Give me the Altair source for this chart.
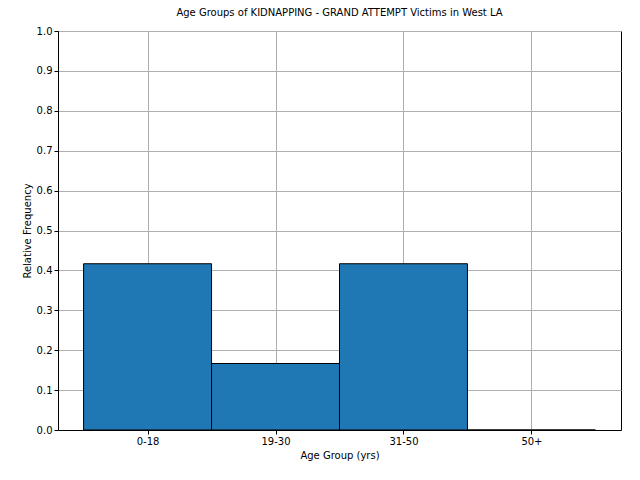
import altair as alt
import pandas as pd

groups = ["0-18", "19-30", "31-50", "50+"]
freqs = [0.4167, 0.1667, 0.4167, 0.0]

df = pd.DataFrame({
    "group": groups,
    "start": [i for i in range(len(groups))],
    "end": [i + 1 for i in range(len(groups))],
    "freq": freqs,
})

label_expr = "[" + ",".join("'%s'" % g for g in groups) + "][floor(datum.value)]"

chart = alt.Chart(df).mark_rect(color="#1f77b4", stroke="black", strokeWidth=1).encode(
    x=alt.X("start:Q", title="Age Group (yrs)",
            scale=alt.Scale(domain=[-0.2, 4.2], nice=False, zero=False),
            axis=alt.Axis(values=[0.5, 1.5, 2.5, 3.5], labelExpr=label_expr,
                          gridColor="#b0b0b0", gridOpacity=1, tickColor="black",
                          domainColor="black", labelFlush=False)),
    x2="end:Q",
    y=alt.Y("freq:Q", title="Relative Frequency",
            scale=alt.Scale(domain=[0, 1], nice=False),
            axis=alt.Axis(values=[i / 10 for i in range(11)], format=".1f",
                          gridColor="#b0b0b0", gridOpacity=1, tickColor="black",
                          domainColor="black")),
    y2=alt.datum(0),
).properties(
    width=563,
    height=399,
    title="Age Groups of KIDNAPPING - GRAND ATTEMPT Victims in West LA",
    autosize=alt.AutoSizeParams(type="none"),
    padding={"left": 50, "top": 23, "right": 11, "bottom": 42},
).configure(font="DejaVu Sans").configure_title(
    fontSize=10, fontWeight="normal", offset=8
).configure_axis(
    labelFontSize=10, titleFontSize=10, titleFontWeight="normal",
    labelColor="black", titleColor="black", tickSize=4
).configure_view(stroke="black", strokeWidth=1)

chart.save("out.html", embed_options={"renderer": "svg", "actions": False})
